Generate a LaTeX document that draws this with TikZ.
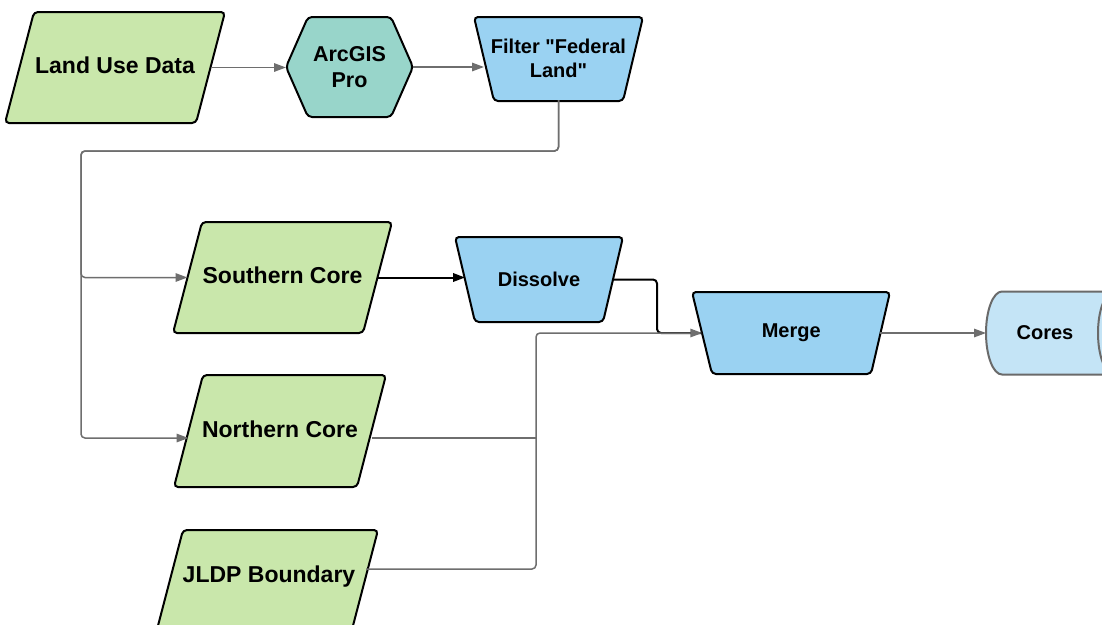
\documentclass[tikz,border=0pt]{standalone}
\usepackage{fontspec}
\setmainfont{Liberation Sans}[Ligatures=TeXOff]
\usetikzlibrary{arrows.meta,calc}

\definecolor{landgreen}{HTML}{C9E7AB}
\definecolor{hexteal}{HTML}{98D5CA}
\definecolor{procblue}{HTML}{9AD2F2}
\definecolor{coreblue}{HTML}{C4E4F6}
\definecolor{linegray}{HTML}{6E6E6E}
\definecolor{coregray}{HTML}{6A6A6A}

\tikzset{
  outline/.style={draw=black, line width=2pt, rounded corners=4pt},
  datafill/.style={outline, fill=landgreen},
  procfill/.style={outline, fill=procblue},
  label/.style={rectangle, inner sep=0pt, outer sep=0pt, align=center},
  biglabel/.style={label, text height=17pt, text depth=5pt, font=\fontsize{23}{26}\selectfont\bfseries},
  proclabel/.style={label, font=\fontsize{20}{24}\selectfont\bfseries},
  conn/.style={draw=linegray, line width=1.5pt, rounded corners=4pt,
    -{Triangle[length=12pt,width=8.5pt]}},
  plainconn/.style={draw=linegray, line width=1.5pt, rounded corners=4pt},
  darkconn/.style={draw=black, line width=2pt, rounded corners=4pt,
    -{Triangle[length=12pt,width=8.5pt]}},
  darkline/.style={draw=black, line width=2pt, rounded corners=4pt},
}

\begin{document}
\begin{tikzpicture}[x=1pt,y=1pt]
\useasboundingbox (0,0) rectangle (1102,-624);
\fill[white] (0,0) rectangle (1102,-624);
\clip (0,0) rectangle (1102,-624);

% ---- outlines of the data inputs (slanted parallelograms)
\draw[datafill] (34,-12) -- (225,-12) -- (196,-123) -- (5,-123) -- cycle;
\draw[datafill] (202,-222) -- (392,-222) -- (363,-333) -- (173,-333) -- cycle;
\draw[datafill] (203,-375) -- (386,-375) -- (357,-487) -- (174,-487) -- cycle;
\draw[datafill] (183,-530) -- (378,-530) -- (349,-641) -- (154,-641) -- cycle;

% ---- outlines of the processing steps
\draw[outline, fill=hexteal] (286,-67) -- (308,-17) -- (391,-17) -- (413,-67)
  -- (391,-117) -- (308,-117) -- cycle;
\draw[procfill] (474,-17) -- (643,-17) -- (623,-101) -- (494,-101) -- cycle;
\draw[procfill] (455,-237) -- (623,-237) -- (603,-322) -- (475,-322) -- cycle;
\draw[procfill] (692,-292) -- (890,-292) -- (871,-374) -- (712,-374) -- cycle;

% ---- stored-data cylinder for the output
\filldraw[fill=coreblue, draw=coregray, line width=2pt]
  (1002,-291.5) -- (1114,-291.5)
  arc[start angle=90, end angle=-90, x radius=16, y radius=41.5]
  -- (1002,-374.5)
  arc[start angle=270, end angle=90, x radius=16, y radius=41.5] -- cycle;
\draw[coregray, line width=2pt] (1114,-333) ellipse[x radius=16, y radius=41.5];

% ---- labelled nodes (sized so that west/east fall on the slanted sides)
\node[biglabel, minimum width=191pt, minimum height=111pt] (lud) at (115,-67.5) {Land Use Data};
\node[biglabel, minimum width=190pt, minimum height=111pt] (sc) at (282.5,-277.5) {Southern Core};
\node[biglabel, minimum width=183pt, minimum height=112pt] (nc) at (280,-431) {Northern Core};
\node[biglabel, minimum width=194pt, minimum height=92pt] (jl) at (269,-576) {JLDP Boundary};

\node[label, minimum width=127pt, minimum height=100pt,
  font=\fontsize{21.5}{26}\selectfont\bfseries] (arc) at (349.5,-67) {ArcGIS\\Pro};
\node[label, minimum width=149pt, minimum height=84pt,
  font=\fontsize{20}{24}\selectfont\bfseries] (flt) at (558.5,-58)
  {Filter "Federal\\Land"};
\node[proclabel, minimum width=148pt, minimum height=85pt] (dis) at (539,-279.5) {Dissolve};
\node[proclabel, minimum width=178pt, minimum height=82pt] (mg) at (791.25,-333) {Merge};
\node[proclabel, minimum width=118pt, minimum height=83pt] (cores) at (1045,-333) {Cores};

% ---- junction points of the routed connectors
\coordinate (busA) at (81,-151);
\coordinate (ncIn) at (nc.west |- 0,-438);
\coordinate (ncOut) at (nc.east |- 0,-438);
\coordinate (jlOut) at (jl.east |- 0,-569);
\coordinate (busB) at (536,-450);
\coordinate (jnA) at (657,-300);

% ---- connectors
\draw[conn] (lud.east) -- (lud.east -| arc.west);
\draw[conn] (arc.east) -- (arc.east -| flt.west);
\draw[conn] (flt.south) |- (busA) |- (sc.west);
\draw[conn] (flt.south) |- (busA) |- (ncIn);
\draw[darkconn] (sc.east) -- (sc.east -| dis.west);
\draw[darkline] (dis.east) -| (jnA) |- (mg.west);
\draw[plainconn] (ncOut) -- (ncOut -| busB);
\draw[conn] (jlOut) -| (busB) |- (mg.west);
\draw[conn] (mg.east) -- (cores.west);
\end{tikzpicture}
\end{document}
